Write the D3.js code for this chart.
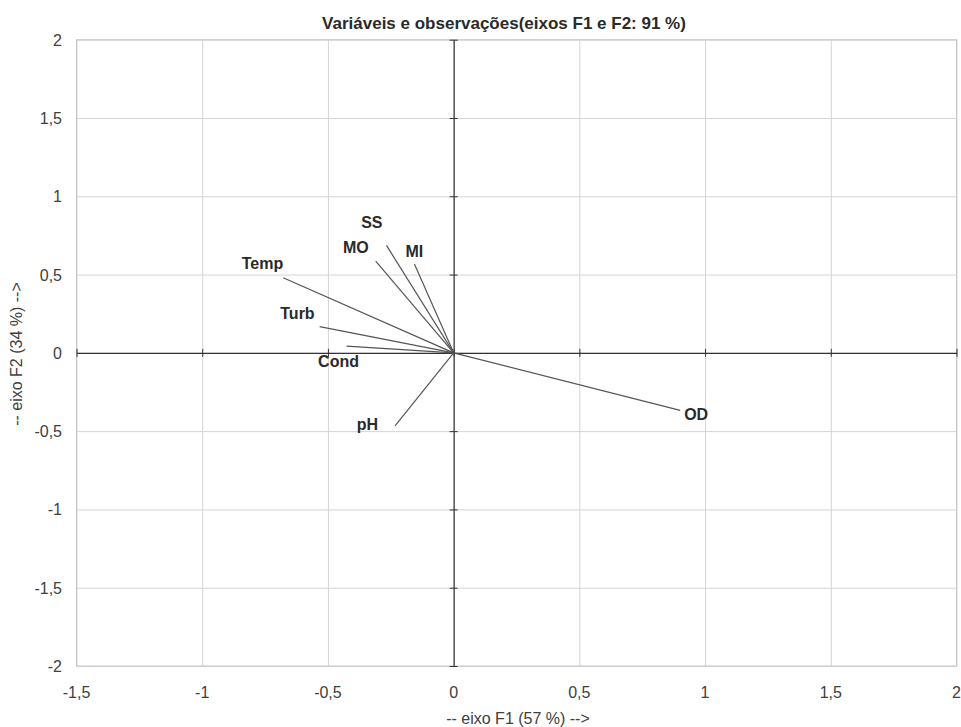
<!DOCTYPE html>
<html>
<head>
<meta charset="utf-8">
<script src="https://cdn.jsdelivr.net/npm/d3@7"></script>
<style>
  body { margin: 0; background: #fff; }
  text { font-family: "Liberation Sans", Arial, sans-serif; }
</style>
</head>
<body>
<div id="chart"></div>
<script>
// Variables (loadings on F1 and F2)
var variables = ["Temp", "Turb", "Cond", "pH", "OD", "MO", "SS", "MI"];
var f1Values = [-0.678, -0.533, -0.426, -0.233, 0.901, -0.310, -0.267, -0.156];
var f2Values = [0.480, 0.167, 0.043, -0.467, -0.367, 0.586, 0.686, 0.567];

// Tick values
var xTicks = [-1.5, -1, -0.5, 0, 0.5, 1, 1.5, 2];
var yTicks = [-2, -1.5, -1, -0.5, 0, 0.5, 1, 1.5, 2];

var width = 961;
var height = 727;
var plotLeft = 76.5;
var plotRight = 956.5;
var plotTop = 39.7;
var plotBottom = 666;

var svg = d3.select("#chart")
  .append("svg")
  .attr("width", width)
  .attr("height", height);

var xScale = d3.scaleLinear().domain([-1.5, 2]).range([plotLeft, plotRight]);
var yScale = d3.scaleLinear().domain([-2, 2]).range([plotBottom, plotTop]);

var fmt = function(d) { return String(d).replace(".", ","); };

// Grid lines
svg.append("g")
  .attr("transform", "translate(0," + plotBottom + ")")
  .call(d3.axisBottom(xScale).tickValues(xTicks).tickSize(-(plotBottom - plotTop)).tickFormat(""))
  .call(function(g) {
    g.select(".domain").remove();
    g.selectAll("line").attr("stroke", "#d4d4d4");
  });

svg.append("g")
  .attr("transform", "translate(" + plotLeft + ",0)")
  .call(d3.axisLeft(yScale).tickValues(yTicks).tickSize(-(plotRight - plotLeft)).tickFormat(""))
  .call(function(g) {
    g.select(".domain").remove();
    g.selectAll("line").attr("stroke", "#d4d4d4");
  });

// Frame
svg.append("rect")
  .attr("x", plotLeft)
  .attr("y", plotTop)
  .attr("width", plotRight - plotLeft)
  .attr("height", plotBottom - plotTop)
  .attr("fill", "none")
  .attr("stroke", "#c8c8c8");

// Tick labels
svg.append("g")
  .selectAll("text")
  .data(xTicks)
  .enter()
  .append("text")
  .attr("x", function(d) { return xScale(d); })
  .attr("y", plotBottom + 32)
  .attr("text-anchor", "middle")
  .attr("font-size", "16px")
  .attr("fill", "#404040")
  .text(fmt);

svg.append("g")
  .selectAll("text")
  .data(yTicks)
  .enter()
  .append("text")
  .attr("x", 62)
  .attr("y", function(d) { return yScale(d) + 6; })
  .attr("text-anchor", "end")
  .attr("font-size", "16px")
  .attr("fill", "#404040")
  .text(fmt);

// Zero axes with small ticks
var zeroAxisX = d3.axisBottom(xScale).tickValues(xTicks).tickSizeInner(4).tickSizeOuter(0).tickFormat("");
svg.append("g")
  .attr("transform", "translate(0," + yScale(0) + ")")
  .call(zeroAxisX)
  .call(function(g) {
    g.select(".domain").attr("stroke", "#333").attr("stroke-width", 1.2);
    g.selectAll(".tick line").attr("y1", -4).attr("stroke", "#333");
  });

var zeroAxisY = d3.axisLeft(yScale).tickValues(yTicks).tickSizeInner(4).tickSizeOuter(0).tickFormat("");
svg.append("g")
  .attr("transform", "translate(" + xScale(0) + ",0)")
  .call(zeroAxisY)
  .call(function(g) {
    g.select(".domain").attr("stroke", "#333").attr("stroke-width", 1.2);
    g.selectAll(".tick line").attr("x1", 4).attr("stroke", "#333");
  });

// Variable vectors
var points = variables.map(function(name, i) {
  return { name: name, f1: f1Values[i], f2: f2Values[i] };
});

svg.append("g")
  .selectAll("line")
  .data(points)
  .enter()
  .append("line")
  .attr("x1", xScale(0))
  .attr("y1", yScale(0))
  .attr("x2", function(d) { return xScale(d.f1); })
  .attr("y2", function(d) { return yScale(d.f2); })
  .attr("stroke", "#555")
  .attr("stroke-width", 1.2);

// Label nudges (pixels) to mimic the original label placement
var nudge = {
  Temp: { dx: 0, dy: -9, anchor: "end" },
  Turb: { dx: -5, dy: -8, anchor: "end" },
  Cond: { dx: -8, dy: 21, anchor: "middle" },
  pH:   { dx: -17, dy: 4, anchor: "end" },
  OD:   { dx: 4, dy: 10, anchor: "start" },
  MO:   { dx: -7, dy: -8, anchor: "end" },
  SS:   { dx: -4, dy: -17, anchor: "end" },
  MI:   { dx: 0, dy: -7, anchor: "middle" }
};

svg.append("g")
  .selectAll("text")
  .data(points)
  .enter()
  .append("text")
  .attr("x", function(d) { return xScale(d.f1) + nudge[d.name].dx; })
  .attr("y", function(d) { return yScale(d.f2) + nudge[d.name].dy; })
  .attr("text-anchor", function(d) { return nudge[d.name].anchor; })
  .attr("font-size", "16px")
  .attr("font-weight", "bold")
  .attr("fill", "#2a2a2a")
  .text(function(d) { return d.name; });

// Title
svg.append("text")
  .attr("x", 504)
  .attr("y", 29)
  .attr("text-anchor", "middle")
  .attr("font-size", "17px")
  .attr("font-weight", "bold")
  .attr("fill", "#2a2a2a")
  .text("Variáveis e observações(eixos F1 e F2: 91 %)");

// X axis label
svg.append("text")
  .attr("x", 518)
  .attr("y", 724)
  .attr("text-anchor", "middle")
  .attr("font-size", "16px")
  .attr("fill", "#404040")
  .text("-- eixo F1 (57 %) -->");

// Y axis label
svg.append("text")
  .attr("transform", "translate(22," + 354 + ") rotate(-90)")
  .attr("text-anchor", "middle")
  .attr("font-size", "16px")
  .attr("fill", "#404040")
  .text("-- eixo F2 (34 %) -->");
</script>
</body>
</html>
